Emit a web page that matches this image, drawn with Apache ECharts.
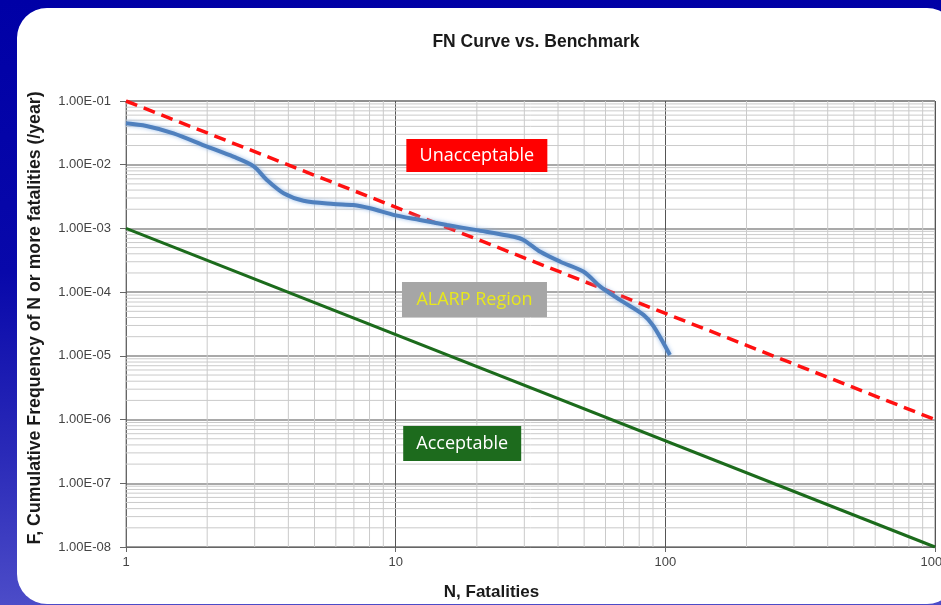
<!DOCTYPE html>
<html>
<head>
<meta charset="utf-8">
<script src="https://cdn.jsdelivr.net/npm/echarts@6/dist/echarts.min.js"></script>
<style>
  html, body { margin: 0; padding: 0; width: 941px; height: 605px; overflow: hidden; }
  body { background: linear-gradient(to bottom, #0000a6 0%, #0808aa 45%, #2a2ab8 75%, #4c4cc8 100%); position: relative; }
  #panel { position: absolute; left: 17px; top: 8px; width: 940px; height: 596px; background: #fff; border-radius: 30px; }
  #chart { position: absolute; left: 0; top: 0; width: 941px; height: 605px; }
</style>
</head>
<body>
<div id="panel"></div>
<div id="chart"></div>
<script>
// FN曲线数据 (N, F)
var fnN = [1, 1.19, 1.5, 2, 2.5, 2.97, 3.33, 3.84, 4.55, 5.88, 6.97, 8.04, 10, 12.3, 15.5, 20, 27.4, 29.8, 34.4, 40.8, 49.8, 57.4, 68.1, 83, 90.5, 104];
var fnF = [0.0447, 0.0405, 0.0311, 0.0192, 0.0134, 0.0095, 0.00575, 0.00356, 0.00272, 0.00242, 0.00233, 0.00207, 0.0016, 0.00136, 0.00113, 0.00094, 0.00074, 0.00066, 0.00043, 0.0003, 0.000209, 0.000122, 0.000075, 0.000044, 0.000029, 0.0000103];
// 基准线
var upperN = [1, 1000];
var upperF = [1e-1, 1e-6];
var lowerN = [1, 1000];
var lowerF = [1e-3, 1e-8];
// 区域标注
var zoneNames = ['Unacceptable', 'ALARP Region', 'Acceptable'];
var zoneN = [20, 19.6, 17.65];
var zoneF = [0.0139, 7.66e-5, 4.2e-7];

function pairs(xs, ys) {
  return xs.map(function (x, i) { return [x, ys[i]]; });
}

// 次网格线 (2..9 每十倍)
var gridSeries = [];
function minorLine(data) {
  gridSeries.push({
    type: 'line',
    data: data,
    silent: true,
    showSymbol: false,
    lineStyle: { color: '#cacaca', width: 1 },
    z: 1
  });
}
[1, 10, 100].forEach(function (d) {
  for (var m = 2; m <= 9; m++) minorLine([[m * d, 1e-8], [m * d, 1e-1]]);
});
for (var e = -8; e <= -2; e++) {
  for (var m = 2; m <= 9; m++) {
    var v = m * Math.pow(10, e);
    minorLine([[1, v], [1000, v]]);
  }
}

var zoneStyle = [
  { bg: '#ff0000', fg: '#ffffff', w: 141, h: 33 },
  { bg: '#a6a6a6', fg: '#e8e81c', w: 145, h: 35 },
  { bg: '#1d6b1d', fg: '#ffffff', w: 118, h: 35 }
];

var myChart = echarts.init(document.getElementById('chart'));
var option = {
  animation: false,
  title: {
    text: 'FN Curve vs. Benchmark',
    left: 531,
    top: 28,
    textAlign: 'center',
    textStyle: { fontFamily: 'Liberation Sans', fontSize: 17.5, fontWeight: 'bold', color: '#1a1a1a' }
  },
  grid: {
    left: 126, top: 101, right: 6, bottom: 58,
    outerBoundsMode: 'none',
    containLabel: false,
    show: true, borderColor: '#8a8a8a', borderWidth: 1
  },
  xAxis: {
    type: 'log',
    logBase: 10,
    min: 1,
    max: 1000,
    name: 'N, Fatalities',
    nameLocation: 'middle',
    nameGap: 37,
    nameTextStyle: { fontFamily: 'Liberation Sans', fontSize: 17, fontWeight: 'bold', color: '#1a1a1a', padding: [0, 78, 0, 0] },
    axisLine: { lineStyle: { color: '#666', width: 1 } },
    axisTick: { show: true, length: 5, lineStyle: { color: '#666' } },
    axisLabel: {
      fontFamily: 'Liberation Sans', fontSize: 13, color: '#444', margin: 9,
      formatter: function (v) { return String(Math.round(v)); }
    },
    splitLine: { show: true, lineStyle: { color: '#555', width: 1 } }
  },
  yAxis: {
    type: 'log',
    logBase: 10,
    min: 1e-8,
    max: 1e-1,
    name: 'F, Cumulative Frequency of N or more fatalities (/year)',
    nameLocation: 'middle',
    nameGap: 82,
    nameTextStyle: { fontFamily: 'Liberation Sans', fontSize: 17.7, fontWeight: 'bold', color: '#1a1a1a', padding: [0, 0, 0, 12] },
    axisLine: { show: true, lineStyle: { color: '#666', width: 1 } },
    axisTick: { show: true, length: 6, lineStyle: { color: '#666' } },
    axisLabel: {
      fontFamily: 'Liberation Sans', fontSize: 13, color: '#444', margin: 15,
      formatter: function (v) {
        var ex = Math.round(Math.log(v) / Math.LN10);
        var s = String(Math.abs(ex));
        if (s.length < 2) s = '0' + s;
        return '1.00E' + (ex < 0 ? '-' : '+') + s;
      }
    },
    splitLine: { show: true, lineStyle: { color: '#8c8c8c', width: 1.5 } }
  },
  series: gridSeries.concat([
    {
      name: 'Upper',
      type: 'line',
      data: pairs(upperN, upperF),
      showSymbol: false,
      lineStyle: { color: '#ff1010', width: 3.5, type: [12, 7] },
      z: 3
    },
    {
      name: 'Lower',
      type: 'line',
      data: pairs(lowerN, lowerF),
      showSymbol: false,
      lineStyle: { color: '#1c6b1c', width: 3 },
      z: 3
    },
    {
      name: 'FN',
      type: 'line',
      data: pairs(fnN, fnF),
      showSymbol: false,
      smooth: 0.3,
      lineStyle: {
        color: '#4f80be', width: 4,
        shadowColor: 'rgba(140,180,230,0.9)', shadowBlur: 4
      },
      z: 4,
      markPoint: {
        silent: true,
        symbol: 'rect',
        data: zoneNames.map(function (n, i) {
          var st = zoneStyle[i];
          return {
            name: n,
            coord: [zoneN[i], zoneF[i]],
            symbolSize: [st.w, st.h],
            itemStyle: { color: st.bg },
            label: {
              show: true, position: 'inside', formatter: n,
              color: st.fg, fontFamily: 'Open Sans', fontSize: 18
            }
          };
        })
      }
    }
  ])
};

myChart.setOption(option);
window.addEventListener('resize', function () {
  myChart.resize();
});
</script>
</body>
</html>
